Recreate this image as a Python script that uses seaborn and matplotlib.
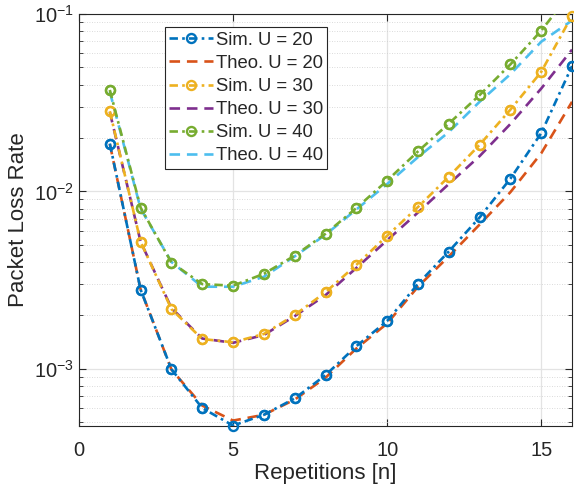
import numpy as np
import pandas as pd
import matplotlib
matplotlib.use("Agg")
import matplotlib.pyplot as plt
import seaborn as sns
from matplotlib.ticker import LogLocator, FixedLocator, NullFormatter

# values
reps = [1, 2, 3, 4, 5, 6, 7, 8, 9, 10, 11, 12, 13, 14, 15, 16]

sim_u20 = [0.0186, 0.00279, 0.000993, 0.000600, 0.000478, 0.00055, 0.00068, 0.00092,
           0.00134, 0.00186, 0.00301, 0.00458, 0.00713, 0.0118, 0.0213, 0.0509]
theo_u20 = [0.0185, 0.00280, 0.00099, 0.00062, 0.00051, 0.00055, 0.00067, 0.00089,
            0.0013, 0.0018, 0.0029, 0.0043, 0.0065, 0.0099, 0.0164, 0.032]
sim_u30 = [0.0283, 0.0052, 0.00217, 0.00147, 0.00141, 0.00157, 0.00201, 0.0027,
           0.00385, 0.00562, 0.00816, 0.0121, 0.0183, 0.0289, 0.0472, 0.098]
theo_u30 = [0.0280, 0.0052, 0.0022, 0.00148, 0.00140, 0.00155, 0.00198, 0.0026,
            0.0037, 0.0053, 0.0076, 0.011, 0.0158, 0.024, 0.038, 0.063]
sim_u40 = [0.0373, 0.0081, 0.00397, 0.0030, 0.00294, 0.00343, 0.00434, 0.00577,
           0.00805, 0.0115, 0.0168, 0.0241, 0.0349, 0.052, 0.0805, 0.135]
theo_u40 = [0.0365, 0.0080, 0.0040, 0.0029, 0.0029, 0.0033, 0.0043, 0.0057,
            0.0079, 0.011, 0.0156, 0.0216, 0.032, 0.0458, 0.0698, 0.092]

labels = ["Sim. U = 20", "Theo. U = 20", "Sim. U = 30", "Theo. U = 30",
          "Sim. U = 40", "Theo. U = 40"]
colors = ["#0072BD", "#D95319", "#EDB120", "#7E2F8E", "#77AC30", "#4DBEEE"]
series = [sim_u20, theo_u20, sim_u30, theo_u30, sim_u40, theo_u40]

sns.set_style("ticks")
plt.rcParams["font.family"] = ["Liberation Sans", "DejaVu Sans"]
plt.rcParams["mathtext.fontset"] = "custom"
plt.rcParams["mathtext.rm"] = "Liberation Sans"

fig = plt.figure(figsize=(5.74, 4.92), dpi=100)
ax = fig.add_axes([0.1376, 0.134, 0.859, 0.8375])

ylo, yhi = 4.75e-4, 1e-1

for lab, col, vals in zip(labels, colors, series):
    df = pd.DataFrame({"n": reps, "plr": vals})
    if lab.startswith("Sim"):
        sns.lineplot(data=df, x="n", y="plr", ax=ax, color=col, label=lab,
                     linestyle=(0, (3.2, 1.6, 1.0, 1.6)), linewidth=1.9,
                     marker="o", markersize=6.5, markerfacecolor="none",
                     markeredgecolor=col, markeredgewidth=1.7, zorder=3)
        # markers on the axis border are not clipped (like the source)
        inside = df[(df.plr >= ylo * 0.97) & (df.plr <= yhi * 1.03)]
        ax.plot(inside.n, inside.plr, linestyle="none", marker="o", markersize=6.5,
                markerfacecolor="none", markeredgecolor=col, markeredgewidth=1.7,
                clip_on=False, zorder=3, label="_nolegend_")
    else:
        sns.lineplot(data=df, x="n", y="plr", ax=ax, color=col, label=lab,
                     linestyle=(0, (4.0, 2.6)), linewidth=1.9, zorder=2)

ax.set_yscale("log")
ax.set_xlim(0, 16)
ax.set_ylim(ylo, yhi)
ax.xaxis.set_major_locator(FixedLocator([0, 5, 10, 15]))
ax.yaxis.set_major_locator(LogLocator(base=10, numticks=10))
ax.yaxis.set_minor_locator(LogLocator(base=10, subs=np.arange(2, 10), numticks=20))
ax.yaxis.set_minor_formatter(NullFormatter())

ax.grid(which="major", color="#e3e3e3", linewidth=0.9, linestyle="-")
ax.grid(which="minor", axis="y", color="#cfcfcf", linewidth=0.6, linestyle=(0, (1, 2)))
ax.set_axisbelow(True)

for s in ax.spines.values():
    s.set_visible(True)
    s.set_color("#262626")
    s.set_linewidth(0.8)
ax.tick_params(which="both", direction="in", top=True, right=True,
               colors="#262626", labelsize=14.5)
ax.tick_params(which="major", length=5, width=0.8)
ax.tick_params(which="minor", length=3, width=0.6)
ax.tick_params(axis="x", pad=11)

ax.set_xlabel("Repetitions [n]", fontsize=16, color="#262626", labelpad=2)
ax.set_ylabel("Packet Loss Rate", fontsize=16, color="#262626", labelpad=4)

leg = ax.legend(loc="upper left", bbox_to_anchor=(0.174, 0.968), fontsize=13.3,
                frameon=True, fancybox=False, framealpha=1, edgecolor="#262626",
                handlelength=2.35, handletextpad=0.15, borderpad=0.25,
                labelspacing=0.33, borderaxespad=0.0)
leg.get_frame().set_linewidth(0.8)

fig.savefig("out.png", dpi=100)
